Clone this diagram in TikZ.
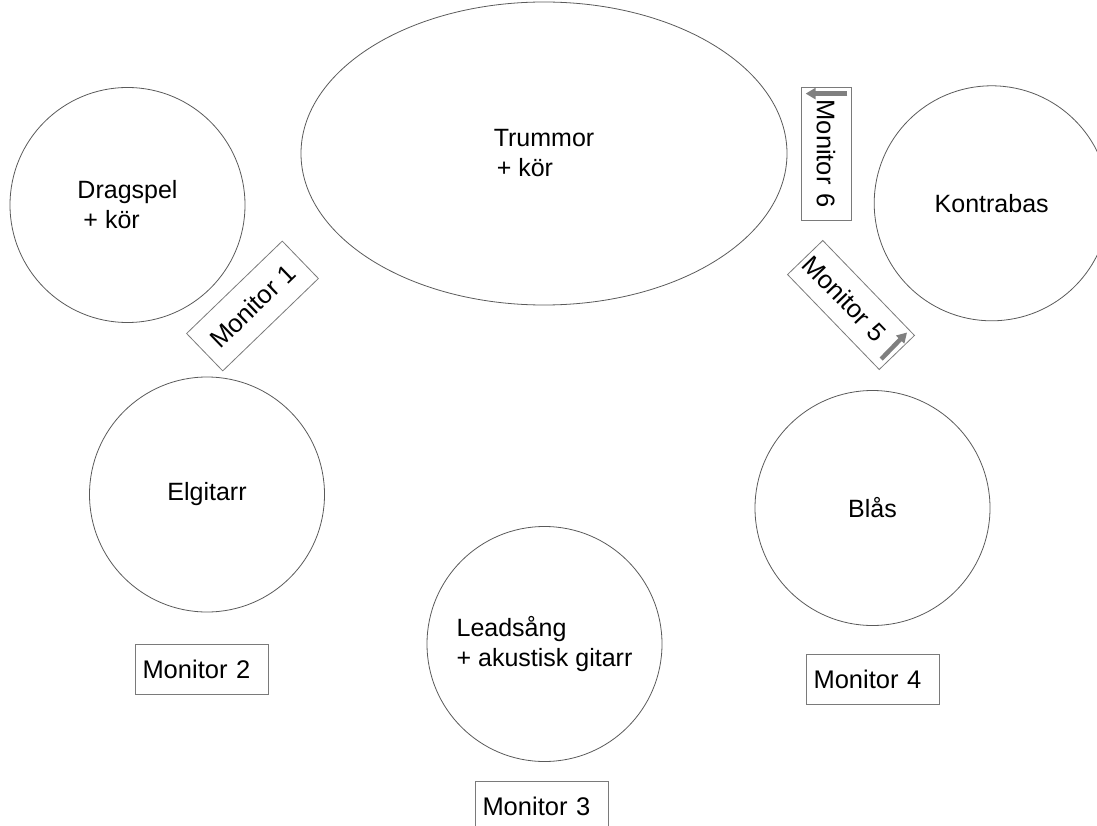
\documentclass[tikz,border=0pt]{standalone}
\usepackage{fontspec}
\setmainfont{Liberation Sans}
\usepackage{tikz}
\usetikzlibrary{arrows.meta, positioning, shapes.geometric, calc}
\definecolor{stagecolor0}{HTML}{5A5A5A}
\definecolor{stagecolor1}{HTML}{7A7A7A}
\definecolor{stagecolor2}{HTML}{808080}
\definecolor{stagecolor3}{HTML}{000000}
\tikzset{
  player_circle/.style={circle, draw=stagecolor0, line width=0.8pt, minimum size=235pt, inner sep=0pt, align=left, text=stagecolor3, font=\fontsize{25}{30}\selectfont},
  player_ellipse/.style={player_circle, ellipse, minimum width=486pt, minimum height=303pt},
  monitor_box/.style={draw=stagecolor1, line width=0.8pt, minimum height=50pt, text width=119pt, inner xsep=7pt, inner ysep=0pt, align=left, text=stagecolor3, font=\fontsize{25.5}{30}\selectfont},
  monitor_turned/.style={monitor_box, align=center},
  monitor_arrow/.style={draw=stagecolor2, line width=4.5pt, -{Triangle[length=10pt, width=11pt]}}
}
\begin{document}
\begin{tikzpicture}[x=1pt, y=-1pt]
\useasboundingbox (0,0) rectangle (1097,826);
\clip (0,0) rectangle (1097,826);
\node[player_circle] (player_dragspel) at (127.5,205) {Dragspel\\\hspace*{6pt}+ kör};
\node[player_ellipse] (player_trummor) at (544,153.5) {Trummor\\\hspace*{3pt}+ kör};
\node[player_circle] (player_kontrabas) at (991.7,203.3) {Kontrabas};
\node[player_circle] (player_elgitarr) at (207,494.5) {Elgitarr};
\node[player_circle] (player_blaas) at (872.5,508) {Blås};
\node[player_circle] (player_lead) at (544.5,644) {Leadsång\\+ akustisk gitarr};
\node[monitor_turned, rotate=44, minimum height=52pt] (monitor_1) at (252.5,306) {Monitor 1};
\node[monitor_box] (monitor_2) at (202,669.5) {Monitor 2};
\node[monitor_box] (monitor_3) at (542,806) {Monitor 3};
\node[monitor_box] (monitor_4) at (873,679.5) {Monitor 4};
\node[monitor_box, rotate=-46, minimum height=49pt, text width=126pt, inner xsep=3pt] (monitor_5) at (851,305) {Monitor 5};
\node[monitor_turned, rotate=-90] (monitor_6) at (826,153.5) {Monitor 6};
\draw[monitor_arrow] ($(monitor_6.north west)+(-4,7)$) -- ($(monitor_6.south west)+(5,7)$);
\draw[monitor_arrow] ($(monitor_5.south east)+(2,-11)$) -- ($(monitor_5.north east)+(-8,-3)$);
\end{tikzpicture}
\end{document}
